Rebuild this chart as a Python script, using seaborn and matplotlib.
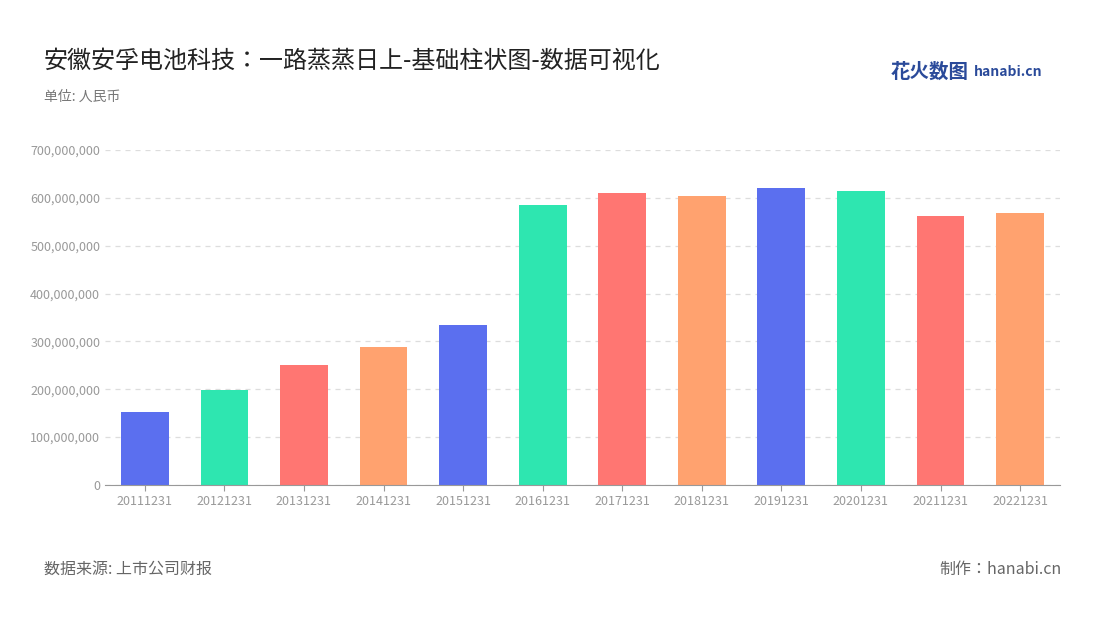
import matplotlib
matplotlib.use("Agg")
import matplotlib.pyplot as plt
from matplotlib import font_manager as fm
import seaborn as sns
import pandas as pd
import os

for f in fm.findSystemFonts():
    if "cjk" in f.lower():
        try:
            fm.fontManager.addfont(f)
        except Exception:
            pass
names = sorted({f.name for f in fm.fontManager.ttflist if "CJK" in f.name})
cjk = "Noto Sans CJK SC" if "Noto Sans CJK SC" in names else (names[0] if names else "DejaVu Sans")
plt.rcParams["font.family"] = "sans-serif"
plt.rcParams["font.sans-serif"] = [cjk, "DejaVu Sans"]

years = ["20111231","20121231","20131231","20141231","20151231","20161231",
         "20171231","20181231","20191231","20201231","20211231","20221231"]
values = [152.5e6,198.5e6,250.7e6,288e6,334e6,585e6,610e6,604e6,620e6,614e6,562e6,568e6]
palette = ["#5B6FEF","#2EE6B0","#FF7672","#FFA26F"]

df = pd.DataFrame({"year": years, "value": values})
colors = [palette[i % 4] for i in range(len(years))]

fig = plt.figure(figsize=(11, 6.2), dpi=100)
ax = fig.add_axes([0.0955, 0.218, 0.868, 0.54])
sns.barplot(data=df, x="year", y="value", hue="year", palette=colors, legend=False,
            width=0.6, ax=ax, saturation=1)
ax.set_ylim(0, 700e6)
ax.set_yticks(range(0, 700_000_001, 100_000_000))
ax.set_yticklabels([f"{v:,}" for v in range(0, 700_000_001, 100_000_000)])
ax.set_xlabel(""); ax.set_ylabel("")
ax.tick_params(axis="both", labelsize=9, colors="#999999", length=0)
ax.tick_params(axis="x", length=4, color="#999999")
ax.grid(axis="y", ls=(0, (4, 4)), color="#dddddd", lw=0.9)
ax.set_axisbelow(True)
for s in ["top", "right", "left"]:
    ax.spines[s].set_visible(False)
ax.spines["bottom"].set_color("#999999")
ax.set_xlim(-0.5, 11.5)

fig.text(0.04, 0.89, "安徽安孚电池科技：一路蒸蒸日上-基础柱状图-数据可视化", fontsize=17.3, color="#222222")
fig.text(0.04, 0.838, "单位: 人民币", fontsize=10, color="#777777")
fig.text(0.04, 0.075, "数据来源: 上市公司财报", fontsize=11.5, color="#666666")
fig.text(0.965, 0.075, "制作：hanabi.cn", fontsize=11.5, color="#666666", ha="right")
fig.text(0.81, 0.875, "花火数图", fontsize=14, color="#2a4a9a", fontweight="bold")
fig.text(0.885, 0.878, "hanabi.cn", fontsize=10, color="#2a4a9a", fontweight="bold")
fig.savefig("out.png", dpi=100)
